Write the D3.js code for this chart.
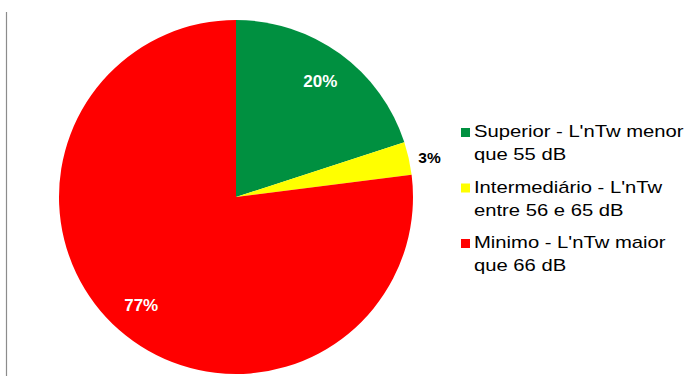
<!DOCTYPE html>
<html>
<head>
<meta charset="utf-8">
<script src="https://cdn.jsdelivr.net/npm/d3@7/dist/d3.min.js"></script>
<style>
  html, body { margin: 0; padding: 0; background: #fff; }
  svg { display: block; }
</style>
</head>
<body>
<svg id="chart" width="695" height="376"></svg>
<script>
// Acoustic performance classes for impact noise (L'nTw)
const categories = ["Superior", "Intermediário", "Minimo"];
const legendLines = [
  ["Superior - L'nTw menor", "que 55 dB"],
  ["Intermediário - L'nTw", "entre 56 e 65 dB"],
  ["Minimo - L'nTw maior", "que 66 dB"]
];
const shares = [20, 3, 77];
const colors = ["#009040", "#FFFF00", "#FF0000"];
const valueLabels = ["20%", "3%", "77%"];

const svg = d3.select("#chart");
const cx = 236, cy = 197, r = 177;
const font = "'Liberation Sans', Arial, sans-serif";

// left frame rule
svg.append("line")
  .attr("x1", 6.5).attr("x2", 6.5).attr("y1", 12).attr("y2", 376)
  .attr("stroke", "#8c8c8c").attr("stroke-width", 1.2);

const color = d3.scaleOrdinal().domain(categories).range(colors);
const pie = d3.pie().sort(null).value(d => d.v);
const data = categories.map((c, i) => ({ c, v: shares[i], label: valueLabels[i] }));
const arcs = pie(data);
const arc = d3.arc().innerRadius(0).outerRadius(r);

const g = svg.append("g").attr("transform", `translate(${cx},${cy})`);
g.selectAll("path").data(arcs).enter().append("path")
  .attr("d", arc)
  .attr("fill", d => color(d.data.c));

// value labels: inside for large slices, outside for the thin one
const inner = d3.arc().innerRadius(r * 0.81).outerRadius(r * 0.81);
const outer = d3.arc().innerRadius(r * 1.12).outerRadius(r * 1.12);
g.selectAll("text.val").data(arcs).enter().append("text")
  .attr("class", "val")
  .attr("transform", d => {
    const p = d.data.v < 5 ? outer.centroid(d) : inner.centroid(d);
    return `translate(${p[0]},${p[1]})`;
  })
  .attr("text-anchor", "middle")
  .attr("dy", d => d.data.v < 5 ? "0.6em" : "0.36em")
  .attr("font-family", font)
  .attr("font-weight", "bold")
  .attr("font-size", d => d.data.v < 5 ? 15.5 : 17)
  .attr("fill", d => d.data.v < 5 ? "#000" : "#fff")
  .text(d => d.data.label);

// legend
const lg = svg.append("g").attr("font-family", font)
  .attr("font-size", 17).attr("fill", "#000");
const legendY = d3.scalePoint().domain(categories).range([137, 248]);
categories.forEach((c, i) => {
  const y = legendY(c);
  lg.append("rect").attr("x", 461).attr("y", y - 9).attr("width", 9).attr("height", 9)
    .attr("fill", color(c));
  legendLines[i].forEach((t, j) => {
    lg.append("text")
      .attr("transform", `translate(474,${y + j * 23}) scale(1.19,1)`)
      .text(t);
  });
});
</script>
</body>
</html>
